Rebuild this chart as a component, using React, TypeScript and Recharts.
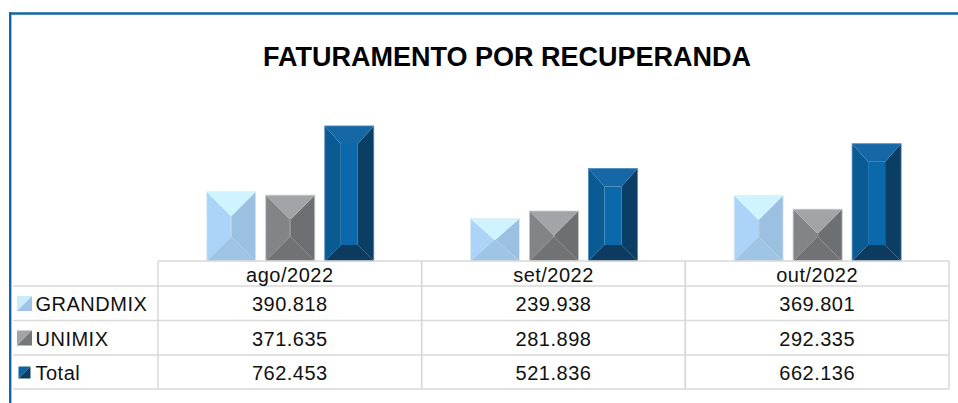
import React from 'react';
import { BarChart, Bar, XAxis, YAxis } from 'recharts';

const categories = ['ago/2022', 'set/2022', 'out/2022'];
const grandmixValues = [390818, 239938, 369801];
const unimixValues = [371635, 281898, 292335];
const totalValues = [762453, 521836, 662136];
const seriesKeys = ['grandmix', 'unimix', 'total'];
const seriesNames = ['GRANDMIX', 'UNIMIX', 'Total'];
const chartTitle = 'FATURAMENTO POR RECUPERANDA';

const data = categories.map((c, i) => ({
  category: c,
  grandmix: grandmixValues[i],
  unimix: unimixValues[i],
  total: totalValues[i],
}));

const fmt = (v: number) => String(Math.round(v)).replace(/\B(?=(\d{3})+(?!\d))/g, '.');

type BevelStyle = {
  top: string; left: string; right: string; bottom: string; inner: string; outline: string;
  ds: number; dt: number; db: number; keyA: string; keyB: string; keySize: number;
};

const styles: Record<string, BevelStyle> = {
  grandmix: { top: '#cff4ff', left: '#acd4f8', right: '#9cc0e2', bottom: '#a0c4e6', inner: '#a6cbee', outline: '#dcebf7', ds: 24, dt: 24, db: 24, keyA: '#c9ebfc', keyB: '#9ec4e7', keySize: 15 },
  unimix: { top: '#a3a4a7', left: '#838487', right: '#6e6f72', bottom: '#717275', inner: '#7a7b7e', outline: '#c6c6c6', ds: 24, dt: 24, db: 24, keyA: '#a2a3a6', keyB: '#75767a', keySize: 15 },
  total: { top: '#1667a6', left: '#0a5a94', right: '#0a3e65', bottom: '#0c3b5f', inner: '#0b69ab', outline: '#4f87b8', ds: 16, dt: 18, db: 16, keyA: '#0d64a3', keyB: '#0a3d63', keySize: 12 },
};

const makeBevel = (s: BevelStyle) => (props: any) => {
  const { x, y, width: w, height: h } = props;
  if (!w || !h || h <= 0) return <g />;
  const ds = Math.min(s.ds, w / 2);
  const dt = Math.min(s.dt, h / 2);
  const db = Math.min(s.db, h / 2);
  const x0 = x, x1 = x + w, y0 = y, y1 = y + h;
  const ix0 = x0 + ds, ix1 = x1 - ds, iy0 = y0 + dt, iy1 = y1 - db;
  const p = (pts: number[][]) => pts.map((q) => q.join(',')).join(' ');
  return (
    <g>
      <polygon points={p([[x0, y0], [ix0, iy0], [ix0, iy1], [x0, y1]])} fill={s.left} />
      <polygon points={p([[x1, y0], [ix1, iy0], [ix1, iy1], [x1, y1]])} fill={s.right} />
      <polygon points={p([[x0, y1], [x1, y1], [ix1, iy1], [ix0, iy1]])} fill={s.bottom} />
      <polygon points={p([[x0, y0], [x1, y0], [ix1, iy0], [ix0, iy0]])} fill={s.top} />
      {ix1 > ix0 && iy1 > iy0 ? <rect x={ix0} y={iy0} width={ix1 - ix0} height={iy1 - iy0} fill={s.inner} /> : null}
      <rect x={x0} y={y0} width={w} height={h} fill="none" stroke={s.outline} strokeWidth={0.8} />
    </g>
  );
};

const LINE = '#d9d9d9';
const FONT = '"Liberation Sans", Arial, sans-serif';
const rowLines = [25, 59.5, 94, 128];
const rowBaselines = [50, 84.7, 119];
const rowKeyCenters = [42.5, 77, 111.5];

const TableTick = (props: any) => {
  const { x, y, payload, index, width, visibleTicksCount } = props;
  const band = payload && payload.offset ? payload.offset * 2 : (width && visibleTicksCount ? width / visibleTicksCount : 263.67);
  const left = x - band / 2;
  const right = x + band / 2;
  const i = typeof index === 'number' ? index : categories.indexOf(payload.value);
  const seriesArrays = [grandmixValues, unimixValues, totalValues];
  const txt = { fontFamily: FONT, fontSize: 20, fill: '#111', letterSpacing: 0.5 } as any;
  return (
    <g>
      <line x1={left} x2={right} y1={y} y2={y} stroke={LINE} strokeWidth={1.5} />
      {rowLines.map((dy, k) => (
        <line key={k} x1={i === 0 ? 13 : left} x2={right} y1={y + dy} y2={y + dy} stroke={LINE} strokeWidth={1.5} />
      ))}
      <line x1={left} x2={left} y1={y} y2={y + 128} stroke={LINE} strokeWidth={1.5} />
      <line x1={right} x2={right} y1={y} y2={y + 128} stroke={LINE} strokeWidth={1.5} />
      <text x={x} y={y + 20.7} textAnchor="middle" {...txt}>{payload.value}</text>
      {seriesArrays.map((arr, k) => (
        <text key={k} x={x} y={y + rowBaselines[k]} textAnchor="middle" {...txt}>{fmt(arr[i])}</text>
      ))}
      {i === 0 && seriesKeys.map((key, k) => {
        const s = styles[key];
        const sz = s.keySize;
        const kx = 24.5 - sz / 2;
        const ky = y + rowKeyCenters[k] - sz / 2;
        return (
          <g key={key}>
            <polygon points={`${kx},${ky} ${kx + sz},${ky} ${kx},${ky + sz}`} fill={s.keyA} />
            <polygon points={`${kx + sz},${ky} ${kx + sz},${ky + sz} ${kx},${ky + sz}`} fill={s.keyB} />
            <text x={35.5} y={y + rowBaselines[k]} {...txt}>{seriesNames[k]}</text>
          </g>
        );
      })}
    </g>
  );
};

export default function App() {
  return (
    <div style={{ position: 'absolute', left: 0, top: 0, width: 958, height: 403, background: '#fff', overflow: 'hidden' }}>
      <BarChart
        width={958}
        height={403}
        data={data}
        margin={{ top: 119.3, right: 9, bottom: 14, left: 158 }}
        barCategoryGap="18.5%"
        barGap={10}
      >
        <XAxis
          dataKey="category"
          height={128}
          axisLine={false}
          tickLine={false}
          tickSize={0}
          tickMargin={0}
          interval={0}
          tick={<TableTick />}
        />
        <YAxis hide domain={[0, 800000]} />
        {seriesKeys.map((key, k) => (
          <Bar key={key} dataKey={key} name={seriesNames[k]} isAnimationActive={false} shape={makeBevel(styles[key])} />
        ))}
      </BarChart>
      <svg width={958} height={403} style={{ position: 'absolute', left: 0, top: 0, pointerEvents: 'none' }}>
        <line x1={10.2} x2={10.2} y1={12.3} y2={403} stroke="#1164a6" strokeWidth={2.4} />
        <line x1={9} x2={958} y1={13.5} y2={13.5} stroke="#1164a6" strokeWidth={2.4} />
        <text x={507} y={65.7} textAnchor="middle" fontFamily={FONT} fontWeight="bold" fontSize={27} fill="#000">{chartTitle}</text>
      </svg>
    </div>
  );
}
